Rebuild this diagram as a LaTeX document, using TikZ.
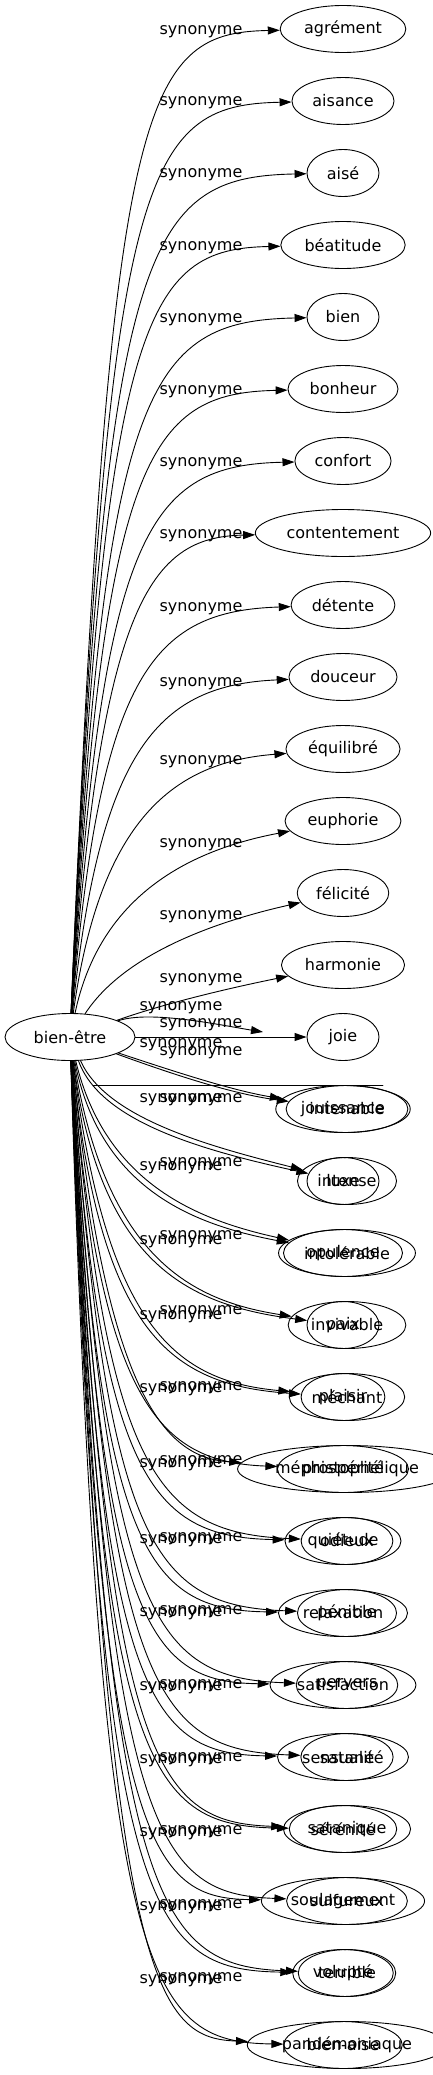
\documentclass[tikz,border=0pt]{standalone}
\usepackage{fontspec}
\setmainfont{DejaVu Sans}
\usepackage{pgf,tikz}
\usetikzlibrary{arrows.meta,shapes.geometric}

\begin{document}
\begin{tikzpicture}[line cap=round,line join=round,>={Triangle[length=12pt,width=8pt]},x=1.0pt,y=-1.0pt,line width=0.9pt,
  font=\fontsize{16}{19}\selectfont,
  word/.style={draw,ellipse,inner xsep=5.5pt,inner ysep=2pt,minimum width=72pt,minimum height=47pt},
  rel/.style={inner sep=0pt}]
\useasboundingbox (0,0) rectangle (433,2075);
\clip(0,0) rectangle (433,2075);
\node[word,minimum width=130pt] (root) at (70,1037) {bien-être};
\node[word] (agrement) at (343,29) {agrément};
\node[word] (aisance) at (343,101) {aisance};
\node[word] (aise) at (343,173) {aisé};
\node[word] (beatitude) at (343,245) {béatitude};
\node[word] (bien) at (343,317) {bien};
\node[word] (bonheur) at (343,389) {bonheur};
\node[word] (confort) at (343,461) {confort};
\node[word] (contentement) at (343,533) {contentement};
\node[word] (detente) at (343,605) {détente};
\node[word] (douceur) at (343,677) {douceur};
\node[word] (equilibre) at (343,749) {équilibré};
\node[word] (euphorie) at (343,821) {euphorie};
\node[word] (felicite) at (343,893) {félicité};
\node[word] (harmonie) at (343,965) {harmonie};
\node[word] (joie) at (343,1037) {joie};
\node[word] (jouissance) at (343,1109) {jouissance};
\node[word] (intenable) at (347,1109) {intenable};
\node[word] (luxe) at (343,1181) {luxe};
\node[word] (intense) at (347,1181) {intense};
\node[word] (opulence) at (343,1253) {opulence};
\node[word] (intolerable) at (347,1253) {intolérable};
\node[word] (paix) at (343,1325) {paix};
\node[word] (invivable) at (347,1325) {invivable};
\node[word] (plaisir) at (343,1397) {plaisir};
\node[word] (mechant) at (347,1397) {méchant};
\node[word] (prosperite) at (343,1469) {prospérité};
\node[word] (mephisto) at (347,1469) {méphistophélique};
\node[word] (quietude) at (343,1541) {quiétude};
\node[word] (odieux) at (347,1541) {odieux};
\node[word] (relaxation) at (343,1613) {relaxation};
\node[word] (penible) at (347,1613) {pénible};
\node[word] (satisfaction) at (343,1685) {satisfaction};
\node[word] (pervers) at (347,1685) {pervers};
\node[word] (sensualite) at (343,1757) {sensualité};
\node[word] (satane) at (347,1757) {satané};
\node[word] (serenite) at (343,1829) {sérénité};
\node[word] (satanique) at (347,1829) {satanique};
\node[word] (soulagement) at (343,1901) {soulagement};
\node[word] (sulfureux) at (347,1901) {sulfureux};
\node[word] (volupte) at (343,1973) {volupté};
\node[word] (terrible) at (347,1973) {terrible};
\node[word] (bienaise) at (343,2045) {bien-aise};
\node[word] (pandemoniaque) at (347,2045) {pandémoniaque};
\coordinate (jb) at (263,1032);
\coordinate (h1) at (93,1085);
\coordinate (h2) at (383,1085);
\draw [->] (root) .. controls (110,100) and (140,33) .. (agrement);
\draw [->] (root) .. controls (108,170) and (142,105) .. (aisance);
\draw [->] (root) .. controls (106,242) and (144,177) .. (aise);
\draw [->] (root) .. controls (105,314) and (145,249) .. (beatitude);
\draw [->] (root) .. controls (104,386) and (146,321) .. (bien);
\draw [->] (root) .. controls (103,458) and (147,393) .. (bonheur);
\draw [->] (root) .. controls (102,530) and (148,465) .. (confort);
\draw [->] (root) .. controls (101,602) and (150,537) .. (contentement);
\draw [->] (root) .. controls (100,674) and (152,611) .. (detente);
\draw [->] (root) .. controls (100,746) and (160,685) .. (douceur);
\draw [->] (root) .. controls (100,818) and (175,762) .. (equilibre);
\draw [->] (root) .. controls (100,895) and (190,850) .. (euphorie);
\draw [->] (root) .. controls (120,960) and (200,925) .. (felicite);
\draw [->] (root) .. controls (160,1005) and (220,990) .. (harmonie);
\draw [->] (root) -- (joie);
\draw [->] (root) .. controls (150,1010) and (220,1025) .. (jb);
\draw (h1)-- (h2);
\draw [->] (root) .. controls (170,1070) and (230,1090) .. (jouissance);
\draw [->] (root) .. controls (172,1074) and (232,1094) .. (intenable);
\draw [->] (root) .. controls (100,1121) and (200,1150) .. (luxe);
\draw [->] (root) .. controls (106,1118) and (208,1146) .. (intense);
\draw [->] (root) .. controls (100,1190) and (195,1225) .. (opulence);
\draw [->] (root) .. controls (106,1187) and (203,1221) .. (intolerable);
\draw [->] (root) .. controls (100,1262) and (185,1305) .. (paix);
\draw [->] (root) .. controls (106,1259) and (193,1301) .. (invivable);
\draw [->] (root) .. controls (100,1334) and (170,1385) .. (plaisir);
\draw [->] (root) .. controls (106,1331) and (178,1381) .. (mechant);
\draw [->] (root) .. controls (100,1406) and (160,1462) .. (prosperite);
\draw [->] (root) .. controls (106,1403) and (168,1458) .. (mephisto);
\draw [->] (root) .. controls (100,1478) and (150,1537) .. (quietude);
\draw [->] (root) .. controls (106,1475) and (158,1533) .. (odieux);
\draw [->] (root) .. controls (100,1550) and (145,1610) .. (relaxation);
\draw [->] (root) .. controls (106,1547) and (153,1606) .. (penible);
\draw [->] (root) .. controls (100,1622) and (145,1682) .. (satisfaction);
\draw [->] (root) .. controls (106,1619) and (153,1678) .. (pervers);
\draw [->] (root) .. controls (100,1694) and (145,1754) .. (sensualite);
\draw [->] (root) .. controls (106,1691) and (153,1750) .. (satane);
\draw [->] (root) .. controls (100,1766) and (145,1826) .. (serenite);
\draw [->] (root) .. controls (106,1763) and (153,1822) .. (satanique);
\draw [->] (root) .. controls (100,1838) and (145,1898) .. (soulagement);
\draw [->] (root) .. controls (106,1835) and (153,1894) .. (sulfureux);
\draw [->] (root) .. controls (100,1910) and (145,1970) .. (volupte);
\draw [->] (root) .. controls (106,1907) and (153,1966) .. (terrible);
\draw [->] (root) .. controls (100,1982) and (145,2042) .. (bienaise);
\draw [->] (root) .. controls (106,1979) and (153,2038) .. (pandemoniaque);
\node[rel] (s01) at (201,32) {synonyme};
\node[rel] (s02) at (201,103) {synonyme};
\node[rel] (s03) at (201,175) {synonyme};
\node[rel] (s04) at (201,248) {synonyme};
\node[rel] (s05) at (201,320) {synonyme};
\node[rel] (s06) at (201,392) {synonyme};
\node[rel] (s07) at (201,464) {synonyme};
\node[rel] (s08) at (201,536) {synonyme};
\node[rel] (s09) at (201,609) {synonyme};
\node[rel] (s10) at (201,684) {synonyme};
\node[rel] (s11) at (201,762) {synonyme};
\node[rel] (s12) at (201,845) {synonyme};
\node[rel] (s13) at (201,917) {synonyme};
\node[rel] (s14) at (201,980) {synonyme};
\node[rel] (s15a) at (181,1008) {synonyme};
\node[rel] (s15b) at (201,1025) {synonyme};
\node[rel] (s15c) at (181,1045) {synonyme};
\node[rel] (s15d) at (201,1053) {synonyme};
\node[rel] (s16a) at (181,1100) {synonyme};
\node[rel] (s16b) at (201,1100) {synonyme};
\node[rel] (s17a) at (181,1168) {synonyme};
\node[rel] (s17b) at (201,1164) {synonyme};
\node[rel] (s18a) at (181,1242) {synonyme};
\node[rel] (s18b) at (201,1237) {synonyme};
\node[rel] (s19a) at (181,1317) {synonyme};
\node[rel] (s19b) at (201,1312) {synonyme};
\node[rel] (s20a) at (181,1390) {synonyme};
\node[rel] (s20b) at (201,1388) {synonyme};
\node[rel] (s21a) at (181,1465) {synonyme};
\node[rel] (s21b) at (201,1462) {synonyme};
\node[rel] (s22a) at (181,1541) {synonyme};
\node[rel] (s22b) at (201,1539) {synonyme};
\node[rel] (s23a) at (181,1614) {synonyme};
\node[rel] (s23b) at (201,1612) {synonyme};
\node[rel] (s24a) at (181,1688) {synonyme};
\node[rel] (s24b) at (201,1686) {synonyme};
\node[rel] (s25a) at (181,1761) {synonyme};
\node[rel] (s25b) at (201,1759) {synonyme};
\node[rel] (s26a) at (181,1834) {synonyme};
\node[rel] (s26b) at (201,1832) {synonyme};
\node[rel] (s27a) at (181,1908) {synonyme};
\node[rel] (s27b) at (201,1906) {synonyme};
\node[rel] (s28a) at (181,1981) {synonyme};
\node[rel] (s28b) at (201,1979) {synonyme};
\end{tikzpicture}
\end{document}
